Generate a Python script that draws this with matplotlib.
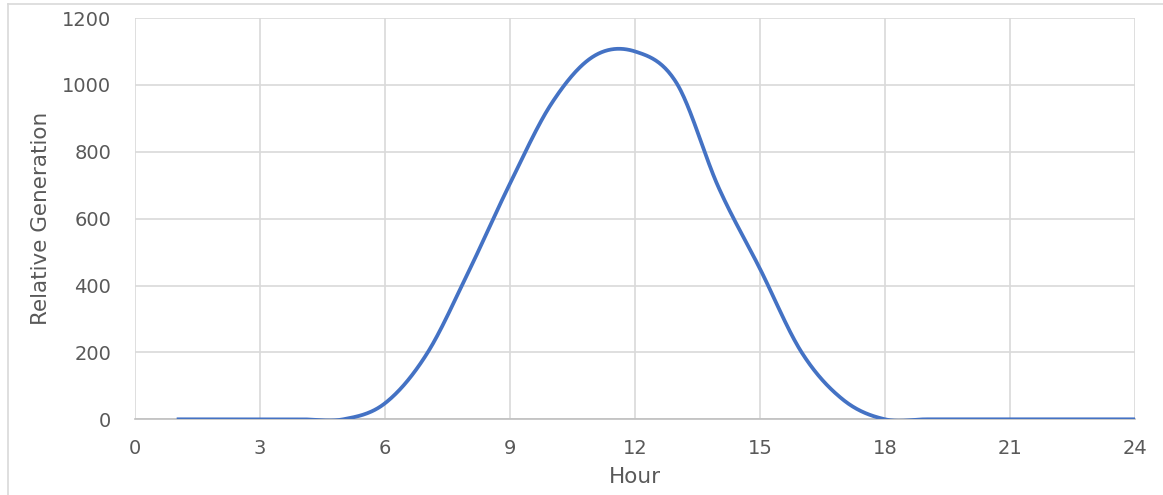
import numpy as np
import matplotlib
matplotlib.use("Agg")
import matplotlib.pyplot as plt
from matplotlib.lines import Line2D

hours = list(range(1, 25))
generation = [0, 0, 0, 0, 0, 48, 195, 440, 705, 945, 1085, 1100,
              1005, 695, 450, 200, 58, 0, 0, 0, 0, 0, 0, 0]
x_ticks = [0, 3, 6, 9, 12, 15, 18, 21, 24]
y_ticks = [0, 200, 400, 600, 800, 1000, 1200]


def excel_smooth(x, y, n=40):
    x = np.asarray(x, float)
    y = np.asarray(y, float)
    px, py = [], []
    m = len(x)
    for i in range(m - 1):
        x0, y0 = x[i], y[i]
        x3, y3 = x[i + 1], y[i + 1]
        xa, ya = (x[i - 1], y[i - 1]) if i > 0 else (x0, y0)
        xb, yb = (x[i + 2], y[i + 2]) if i + 2 < m else (x3, y3)
        x1 = x0 + (x3 - xa) / 6
        y1 = y0 + (y3 - ya) / 6
        x2 = x3 - (xb - x0) / 6
        y2 = y3 - (yb - y0) / 6
        t = np.linspace(0, 1, n, endpoint=(i == m - 2))
        b0 = (1 - t) ** 3
        b1 = 3 * (1 - t) ** 2 * t
        b2 = 3 * (1 - t) * t ** 2
        b3 = t ** 3
        px.append(b0 * x0 + b1 * x1 + b2 * x2 + b3 * x3)
        py.append(b0 * y0 + b1 * y1 + b2 * y2 + b3 * y3)
    return np.concatenate(px), np.concatenate(py)


fig = plt.figure(figsize=(11.63, 4.95), dpi=100)
ax = fig.add_axes([135 / 1163, 1 - 419.3 / 495, 1000 / 1163, 401.3 / 495])

sx, sy = excel_smooth(hours, generation)
ax.plot(sx, sy, color="#4472C4", linewidth=2.7, solid_capstyle="butt", zorder=3)

ax.set_xlim(0, 24)
ax.set_ylim(0, 1200)
ax.set_xticks(x_ticks)
ax.set_yticks(y_ticks)
ax.grid(True, color="#d9d9d9", linewidth=1.2, zorder=0)
ax.set_axisbelow(True)
for s in ["left", "right", "top"]:
    ax.spines[s].set_visible(False)
ax.spines["bottom"].set_color("#bfbfbf")
ax.spines["bottom"].set_linewidth(1.2)
ax.tick_params(axis="both", length=0, labelsize=14, labelcolor="#595959")
ax.tick_params(axis="y", pad=17)
ax.tick_params(axis="x", pad=14)
ax.set_xlabel("Hour", fontsize=15.5, color="#595959", labelpad=7)
ax.set_ylabel("Relative Generation", fontsize=15.5, color="#595959", labelpad=8)

# chart area border (partially visible)
fig.add_artist(Line2D([8 / 1163, 8 / 1163], [0, 1 - 4 / 495], transform=fig.transFigure,
                      color="#d9d9d9", linewidth=1.2))
fig.add_artist(Line2D([8 / 1163, 1], [1 - 4 / 495, 1 - 4 / 495], transform=fig.transFigure,
                      color="#d9d9d9", linewidth=1.2))

fig.savefig("out.png", dpi=100)
